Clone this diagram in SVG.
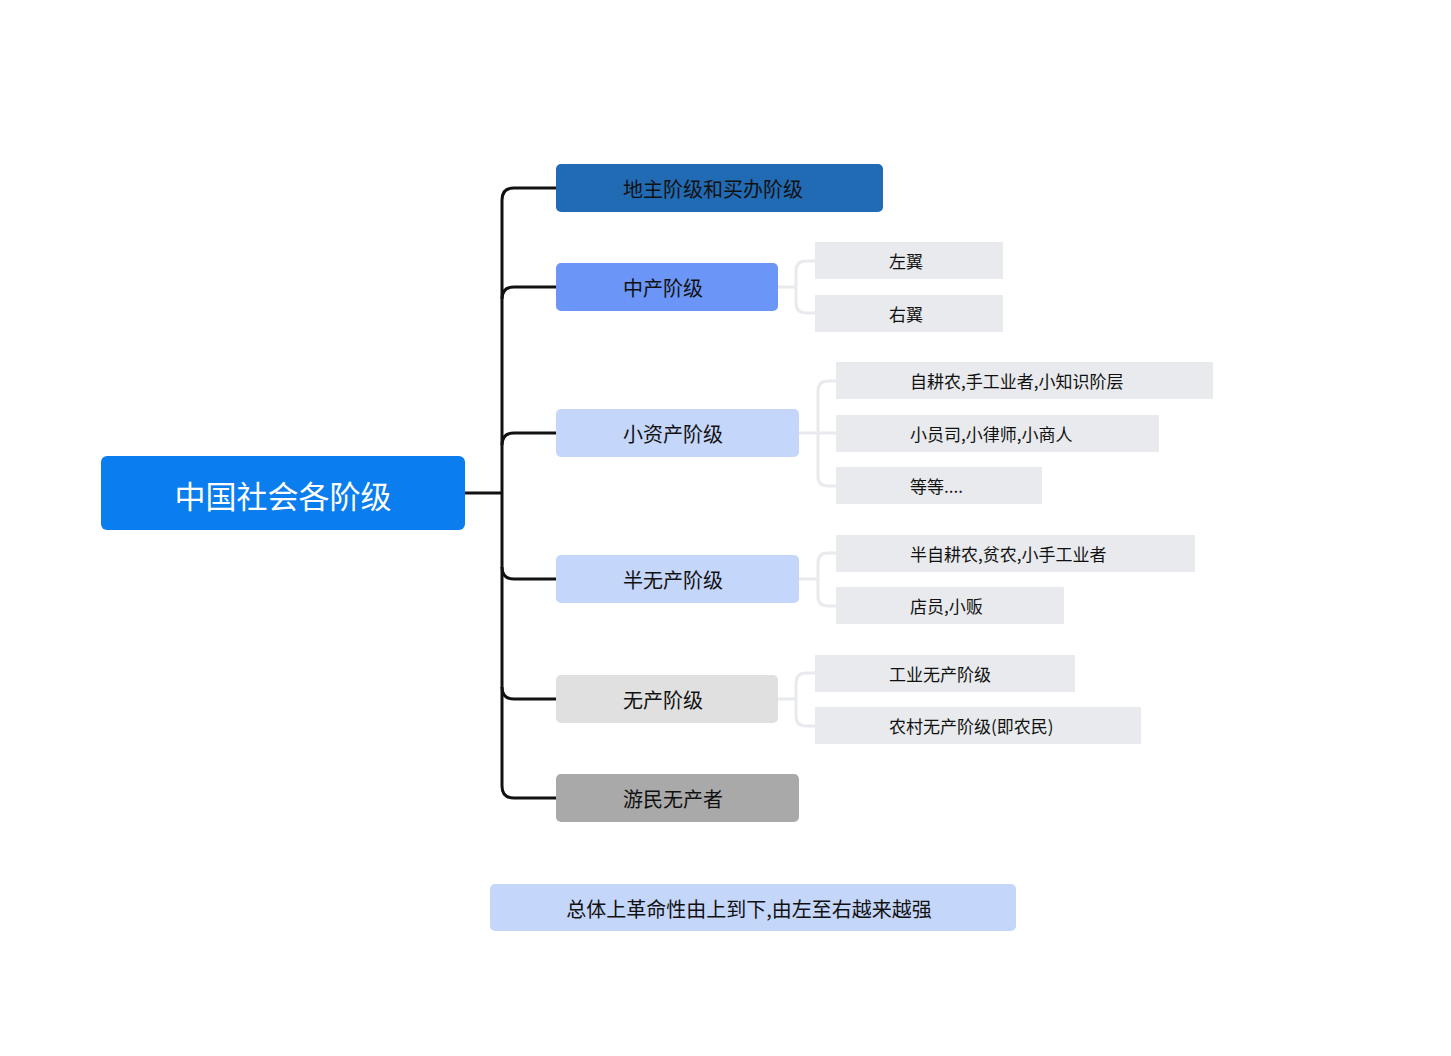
<svg xmlns="http://www.w3.org/2000/svg" width="1451" height="1056" viewBox="0 0 1451 1056">
<style>
text{font-family:"Noto Sans CJK SC","Liberation Sans",sans-serif;fill:#111;dominant-baseline:central}
.l1{font-size:20px}.lf{font-size:17px}
.leaf{fill:#e8eaed}
.tr{fill:none;stroke:#111;stroke-width:3}
.br{fill:none;stroke:#e8eaed;stroke-width:3}
</style>
<rect width="1451" height="1056" fill="#fff"/>
<g id="connectors">
<path class="tr" d="M465 493H502"/>
<path class="tr" d="M556 188H514Q502 188 502 200V786Q502 798 514 798H556"/>
<path class="tr" d="M556 287H514Q502 287 502 299"/>
<path class="tr" d="M556 433H514Q502 433 502 445"/>
<path class="tr" d="M556 579H514Q502 579 502 567"/>
<path class="tr" d="M556 699H514Q502 699 502 687"/>
<path class="br" d="M778 287H796M815 261H806Q796 261 796 271V303Q796 313 806 313H815"/>
<path class="br" d="M799 433H836M836 381H828Q818 381 818 391V476Q818 486 828 486H836"/>
<path class="br" d="M799 579H818M836 553H828Q818 553 818 563V596Q818 606 828 606H836"/>
<path class="br" d="M778 699H796M815 673H806Q796 673 796 683V716Q796 726 806 726H815"/>
</g>
<g id="root"><rect x="101" y="456" width="364" height="74" rx="6" fill="#0a7def"/><text x="283" y="494" font-size="31" text-anchor="middle" style="fill:#fff">中国社会各阶级</text></g>
<g id="n1"><rect x="556" y="164" width="327" height="48" rx="5" fill="#216bb4"/><text class="l1" x="623" y="188">地主阶级和买办阶级</text></g>
<g id="n2"><rect x="556" y="263" width="222" height="48" rx="5" fill="#6b96f7"/><text class="l1" x="623" y="287">中产阶级</text></g>
<g id="n3"><rect x="556" y="409" width="243" height="48" rx="5" fill="#c5d6fb"/><text class="l1" x="623" y="433">小资产阶级</text></g>
<g id="n4"><rect x="556" y="555" width="243" height="48" rx="5" fill="#c5d6fb"/><text class="l1" x="623" y="579">半无产阶级</text></g>
<g id="n5"><rect x="556" y="675" width="222" height="48" rx="5" fill="#e0e0e0"/><text class="l1" x="623" y="699">无产阶级</text></g>
<g id="n6"><rect x="556" y="774" width="243" height="48" rx="5" fill="#a9a9a9"/><text class="l1" x="623" y="798">游民无产者</text></g>
<g id="a1"><rect class="leaf" x="815" y="242" width="188" height="37"/><text class="lf" x="889" y="260">左翼</text></g>
<g id="a2"><rect class="leaf" x="815" y="295" width="188" height="37"/><text class="lf" x="889" y="313">右翼</text></g>
<g id="b1"><rect class="leaf" x="836" y="362" width="377" height="37"/><text class="lf" x="910" y="380">自耕农,手工业者,小知识阶层</text></g>
<g id="b2"><rect class="leaf" x="836" y="415" width="323" height="37"/><text class="lf" x="910" y="433">小员司,小律师,小商人</text></g>
<g id="b3"><rect class="leaf" x="836" y="467" width="206" height="37"/><text class="lf" x="910" y="485">等等....</text></g>
<g id="c1"><rect class="leaf" x="836" y="535" width="359" height="37"/><text class="lf" x="910" y="553">半自耕农,贫农,小手工业者</text></g>
<g id="c2"><rect class="leaf" x="836" y="587" width="228" height="37"/><text class="lf" x="910" y="605">店员,小贩</text></g>
<g id="d1"><rect class="leaf" x="815" y="655" width="260" height="37"/><text class="lf" x="889" y="673">工业无产阶级</text></g>
<g id="d2"><rect class="leaf" x="815" y="707" width="326" height="37"/><text class="lf" x="889" y="725">农村无产阶级(即农民)</text></g>
<g id="note"><rect x="490" y="884" width="526" height="47" rx="5" fill="#c5d6fb"/><text class="l1" x="749" y="908" text-anchor="middle">总体上革命性由上到下,由左至右越来越强</text></g>
</svg>
